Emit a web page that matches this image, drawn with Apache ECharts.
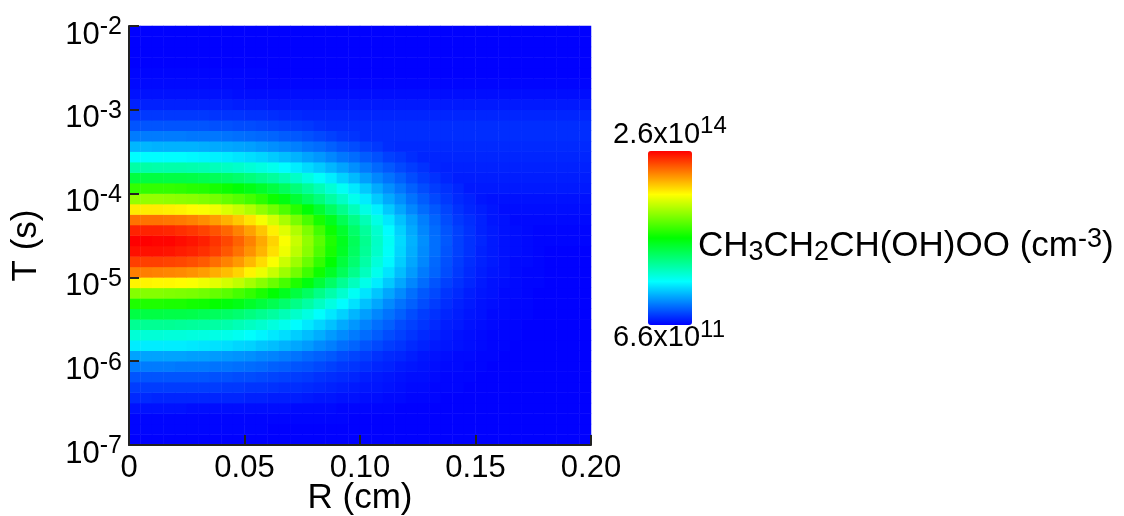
<!DOCTYPE html>
<html>
<head>
    <meta charset="utf-8">
    <title>CH3CH2CH(OH)OO</title>
    <script src="https://cdn.jsdelivr.net/npm/echarts@6.0.0/dist/echarts.min.js"></script>
    <style>
        html, body { margin: 0; padding: 0; background: #fff; }
        #chart1 { width: 1124px; height: 516px; }
    </style>
</head>
<body>
<div id="chart1"></div>
<script type="text/javascript">
    // cell centres of the colour map: R in cm, T as log10(s)
    var rCenters = [0.0025, 0.0075, 0.0125, 0.0175, 0.0225, 0.0275, 0.0325, 0.0375, 0.0425, 0.0475,
        0.0525, 0.0575, 0.0625, 0.0675, 0.0725, 0.0775, 0.0825, 0.0875, 0.0925, 0.0975,
        0.1025, 0.1075, 0.1125, 0.1175, 0.1225, 0.1275, 0.1325, 0.1375, 0.1425, 0.1475,
        0.1525, 0.1575, 0.1625, 0.1675, 0.1725, 0.1775, 0.1825, 0.1875, 0.1925, 0.1975];
    var logTCenters = [-6.9375, -6.8125, -6.6875, -6.5625, -6.4375, -6.3125, -6.1875, -6.0625, -5.9375, -5.8125,
        -5.6875, -5.5625, -5.4375, -5.3125, -5.1875, -5.0625, -4.9375, -4.8125, -4.6875, -4.5625,
        -4.4375, -4.3125, -4.1875, -4.0625, -3.9375, -3.8125, -3.6875, -3.5625, -3.4375, -3.3125,
        -3.1875, -3.0625, -2.9375, -2.8125, -2.6875, -2.5625, -2.4375, -2.3125, -2.1875, -2.0625];

    // CH3CH2CH(OH)OO in 10^12 cm^-3, one row per T cell, bottom row (10^-7 s) first
    var conc = [
        [1, 1, 1, 1, 1, 1, 1, 1, 1, 1, 1, 1, 1, 1, 1, 1, 1, 1, 1, 1, 1, 1, 1, 1, 1, 1, 1, 1, 1, 1, 1, 1, 1, 1, 1, 1, 1, 1, 1, 1],
        [2, 2, 2, 2, 2, 2, 2, 2, 2, 2, 2, 2, 1, 1, 1, 1, 1, 1, 1, 1, 1, 1, 1, 1, 1, 1, 1, 1, 1, 1, 1, 1, 1, 1, 1, 1, 1, 1, 1, 1],
        [2, 2, 2, 2, 2, 2, 2, 2, 2, 2, 2, 2, 2, 2, 2, 2, 2, 2, 2, 1, 1, 1, 1, 1, 1, 1, 1, 1, 1, 1, 1, 1, 1, 1, 1, 1, 1, 1, 1, 1],
        [5, 5, 5, 5, 5, 4, 4, 4, 4, 4, 4, 4, 4, 4, 3, 3, 3, 3, 2, 2, 2, 2, 2, 1, 1, 1, 1, 1, 1, 1, 1, 1, 1, 1, 1, 1, 1, 1, 1, 1],
        [11, 11, 10, 10, 10, 10, 10, 10, 10, 10, 9, 9, 8, 8, 8, 7, 6, 6, 5, 5, 4, 4, 3, 3, 2, 2, 2, 1, 1, 1, 1, 1, 1, 1, 1, 1, 1, 1, 1, 1],
        [16, 16, 16, 16, 16, 16, 16, 16, 15, 15, 14, 14, 13, 12, 12, 11, 10, 9, 8, 7, 6, 6, 5, 4, 3, 3, 2, 2, 2, 1, 1, 1, 1, 1, 1, 1, 1, 1, 1, 1],
        [22, 22, 22, 22, 22, 22, 22, 21, 21, 20, 20, 19, 18, 17, 16, 15, 13, 12, 11, 10, 8, 7, 6, 5, 4, 4, 3, 2, 2, 2, 1, 1, 1, 1, 1, 1, 1, 1, 1, 1],
        [32, 32, 32, 32, 31, 31, 31, 30, 30, 29, 28, 27, 25, 24, 22, 21, 19, 17, 15, 14, 12, 10, 9, 7, 6, 5, 4, 3, 3, 2, 2, 1, 1, 1, 1, 1, 1, 1, 1, 1],
        [42, 42, 42, 42, 42, 41, 41, 40, 39, 38, 37, 35, 34, 32, 30, 27, 25, 23, 20, 18, 16, 13, 11, 10, 8, 6, 5, 4, 3, 3, 2, 2, 1, 1, 1, 1, 1, 1, 1, 1],
        [61, 61, 61, 61, 61, 60, 59, 58, 57, 55, 54, 51, 49, 46, 43, 40, 36, 33, 29, 26, 22, 19, 16, 14, 11, 9, 7, 6, 5, 4, 3, 2, 2, 1, 1, 1, 1, 1, 1, 1],
        [76, 76, 76, 75, 75, 74, 73, 72, 71, 69, 66, 63, 60, 57, 53, 49, 45, 40, 36, 32, 28, 24, 20, 17, 14, 11, 9, 7, 5, 4, 3, 2, 2, 2, 1, 1, 1, 1, 1, 1],
        [93, 93, 93, 93, 92, 91, 90, 89, 87, 84, 81, 78, 74, 70, 65, 60, 55, 50, 44, 39, 34, 29, 25, 20, 17, 14, 11, 8, 7, 5, 4, 3, 2, 2, 1, 1, 1, 1, 1, 1],
        [113, 113, 113, 112, 112, 111, 109, 107, 105, 102, 98, 94, 90, 84, 79, 73, 66, 60, 54, 47, 41, 35, 30, 25, 20, 16, 13, 10, 8, 6, 5, 3, 3, 2, 2, 1, 1, 1, 1, 1],
        [138, 138, 138, 137, 137, 135, 134, 131, 128, 125, 120, 115, 110, 103, 96, 89, 81, 73, 65, 58, 50, 43, 36, 30, 25, 20, 16, 12, 9, 7, 5, 4, 3, 2, 2, 1, 1, 1, 1, 1],
        [164, 164, 164, 163, 162, 161, 159, 156, 153, 148, 143, 137, 130, 123, 114, 106, 96, 87, 78, 68, 59, 51, 43, 36, 29, 23, 19, 14, 11, 8, 6, 5, 3, 3, 2, 1, 1, 1, 1, 1],
        [198, 198, 197, 197, 196, 194, 191, 188, 184, 179, 172, 165, 157, 148, 138, 127, 116, 105, 93, 82, 71, 61, 52, 43, 35, 28, 22, 17, 13, 10, 7, 5, 4, 3, 2, 2, 1, 1, 1, 1],
        [228, 228, 227, 226, 225, 223, 220, 216, 212, 206, 198, 190, 181, 170, 159, 146, 134, 121, 108, 95, 82, 70, 59, 49, 40, 32, 26, 20, 15, 11, 8, 6, 5, 3, 2, 2, 1, 1, 1, 1],
        [244, 244, 244, 243, 242, 240, 237, 232, 227, 221, 213, 204, 194, 182, 170, 157, 143, 130, 115, 102, 88, 75, 64, 53, 43, 35, 27, 21, 16, 12, 9, 7, 5, 3, 3, 2, 1, 1, 1, 1],
        [256, 256, 256, 255, 253, 251, 248, 244, 238, 231, 223, 214, 203, 191, 178, 165, 150, 136, 121, 106, 92, 79, 67, 55, 45, 36, 29, 22, 17, 13, 9, 7, 5, 4, 3, 2, 1, 1, 1, 1],
        [260, 260, 259, 259, 257, 255, 252, 247, 242, 235, 227, 217, 206, 194, 181, 167, 153, 138, 123, 108, 94, 80, 68, 56, 46, 37, 29, 23, 17, 13, 10, 7, 5, 4, 3, 2, 2, 2, 2, 2],
        [251, 251, 251, 250, 248, 246, 243, 239, 234, 227, 219, 210, 199, 187, 175, 162, 147, 133, 119, 104, 91, 78, 65, 54, 44, 35, 28, 22, 17, 13, 9, 7, 5, 4, 3, 2, 2, 2, 2, 2],
        [231, 231, 231, 230, 229, 227, 224, 220, 215, 209, 202, 193, 184, 173, 161, 149, 136, 123, 109, 96, 84, 72, 60, 50, 41, 33, 26, 20, 15, 12, 9, 6, 5, 3, 3, 3, 3, 3, 3, 3],
        [200, 200, 200, 199, 198, 196, 194, 191, 186, 181, 175, 167, 159, 150, 140, 129, 118, 106, 95, 83, 72, 62, 52, 43, 35, 28, 23, 18, 13, 10, 8, 6, 4, 4, 4, 4, 4, 4, 4, 4],
        [168, 168, 168, 167, 166, 165, 163, 160, 156, 152, 147, 141, 133, 126, 117, 108, 99, 89, 80, 70, 61, 52, 44, 37, 30, 24, 19, 15, 11, 9, 6, 5, 5, 5, 5, 5, 5, 5, 5, 5],
        [143, 143, 143, 143, 142, 140, 139, 136, 133, 129, 125, 120, 114, 107, 100, 92, 84, 76, 68, 60, 52, 44, 37, 31, 25, 20, 16, 13, 10, 7, 7, 7, 7, 7, 7, 7, 7, 7, 7, 7],
        [114, 114, 114, 113, 113, 112, 110, 108, 106, 103, 99, 95, 91, 85, 80, 73, 67, 61, 54, 48, 41, 35, 30, 25, 20, 16, 13, 10, 8, 8, 8, 8, 8, 8, 8, 8, 8, 8, 8, 8],
        [88, 88, 87, 87, 87, 86, 85, 83, 81, 79, 76, 73, 70, 65, 61, 56, 52, 47, 42, 37, 32, 27, 23, 19, 16, 13, 10, 9, 9, 9, 9, 9, 9, 9, 9, 9, 9, 9, 9, 9],
        [65, 65, 65, 65, 65, 64, 63, 62, 61, 59, 57, 55, 52, 49, 46, 42, 39, 35, 31, 28, 24, 21, 17, 15, 12, 10, 10, 10, 10, 10, 10, 10, 10, 10, 10, 10, 10, 10, 10, 10],
        [47, 47, 46, 46, 46, 46, 45, 44, 43, 42, 41, 39, 37, 35, 33, 30, 28, 25, 22, 20, 17, 15, 12, 11, 11, 11, 11, 11, 11, 11, 11, 11, 11, 11, 11, 11, 11, 11, 11, 11],
        [32, 32, 32, 32, 32, 31, 31, 31, 30, 29, 28, 27, 26, 24, 23, 21, 19, 17, 15, 14, 12, 12, 12, 12, 12, 12, 12, 12, 12, 12, 12, 12, 12, 12, 12, 12, 12, 12, 12, 12],
        [22, 22, 22, 22, 22, 22, 22, 21, 21, 20, 20, 19, 18, 17, 16, 15, 13, 12, 12, 12, 12, 12, 12, 12, 12, 12, 12, 12, 12, 12, 12, 12, 12, 12, 12, 12, 12, 12, 12, 12],
        [15, 15, 15, 15, 15, 15, 15, 14, 14, 14, 13, 13, 12, 11, 11, 10, 10, 10, 10, 10, 10, 10, 10, 10, 10, 10, 10, 10, 10, 10, 10, 10, 10, 10, 10, 10, 10, 10, 10, 10],
        [9, 9, 9, 9, 9, 9, 9, 9, 9, 8, 8, 8, 7, 7, 7, 7, 7, 7, 7, 7, 7, 7, 7, 7, 7, 7, 7, 7, 7, 7, 7, 7, 7, 7, 7, 7, 7, 7, 7, 7],
        [5, 5, 5, 5, 5, 5, 5, 5, 5, 4, 4, 4, 4, 4, 4, 4, 4, 4, 4, 4, 4, 4, 4, 4, 4, 4, 4, 4, 4, 4, 4, 4, 4, 4, 4, 4, 4, 4, 4, 4],
        [3, 3, 3, 3, 3, 3, 3, 3, 3, 3, 2, 2, 2, 2, 2, 2, 2, 2, 2, 2, 2, 2, 2, 2, 2, 2, 2, 2, 2, 2, 2, 2, 2, 2, 2, 2, 2, 2, 2, 2],
        [2, 2, 2, 2, 2, 2, 2, 2, 2, 2, 2, 2, 1, 1, 1, 1, 1, 1, 1, 1, 1, 1, 1, 1, 1, 1, 1, 1, 1, 1, 1, 1, 1, 1, 1, 1, 1, 1, 1, 1],
        [1, 1, 1, 1, 1, 1, 1, 1, 1, 1, 1, 1, 1, 1, 1, 1, 1, 1, 1, 1, 1, 1, 1, 1, 1, 1, 1, 1, 1, 1, 1, 1, 1, 1, 1, 1, 1, 1, 1, 1],
        [1, 1, 1, 1, 1, 1, 1, 1, 1, 1, 1, 1, 1, 1, 1, 1, 1, 1, 1, 1, 1, 1, 1, 1, 1, 1, 1, 1, 1, 1, 1, 1, 1, 1, 1, 1, 1, 1, 1, 1],
        [1, 1, 1, 1, 1, 1, 1, 1, 1, 1, 1, 1, 1, 1, 1, 1, 1, 1, 1, 1, 1, 1, 1, 1, 1, 1, 1, 1, 1, 1, 1, 1, 1, 1, 1, 1, 1, 1, 1, 1],
        [1, 1, 1, 1, 1, 1, 1, 1, 1, 1, 1, 1, 1, 1, 1, 1, 1, 1, 1, 1, 1, 1, 1, 1, 1, 1, 1, 1, 1, 1, 1, 1, 1, 1, 1, 1, 1, 1, 1, 1]
    ];

    var xTickLabels = ['0', '0.05', '0.10', '0.15', '0.20'];
    var yTickExps = [-7, -6, -5, -4, -3, -2];
    var cbMin = 0.66, cbMax = 260;   // colour bar ends, 10^12 cm^-3
    var cbTop = ['2.6x10', '14'];
    var cbBottom = ['6.6x10', '11'];
    var rainbow = ['#0000ff', '#00ffff', '#00ff00', '#ffff00', '#ff0000'];

    var FONT = '"Liberation Sans", Arial, sans-serif';

    var heatData = [];
    conc.forEach(function (row, j) {
        row.forEach(function (v, i) {
            heatData.push([i, j, v]);
        });
    });

    var supRich = function (base, sup, lh) {
        return {
            b: {fontSize: base, lineHeight: 40, fontFamily: FONT, color: '#000', fill: '#000'},
            s: {fontSize: sup, lineHeight: lh, verticalAlign: 'top', fontFamily: FONT, color: '#000', fill: '#000'}
        };
    };

    var myChart1 = echarts.init(document.getElementById('chart1'));
    // both grids sit on the same box: one carries the cells, the other the real axes
    var gridBox = {left: 129, top: 26, width: 462, height: 419, outerBoundsMode: 'none', containLabel: false};

    myChart1.setOption({
        animation: false,
        backgroundColor: '#fff',
        grid: [gridBox, gridBox],
        xAxis: [{
            type: 'category', gridIndex: 0, show: false,
            data: rCenters.map(String)
        }, {
            type: 'value', gridIndex: 1, min: 0, max: 0.2, interval: 0.05, z: 5,
            axisLine: {show: true, lineStyle: {color: '#222', width: 2}},
            axisTick: {show: true, inside: true, length: 10, lineStyle: {color: '#222', width: 2}},
            splitLine: {show: false},
            axisLabel: {
                margin: 8, fontSize: 31, fontFamily: FONT, color: '#000',
                formatter: function (v) { return xTickLabels[Math.round(v / 0.05)]; }
            },
            name: 'R (cm)', nameLocation: 'middle', nameGap: 36, nameMoveOverlap: false,
            nameTextStyle: {fontSize: 35, fontFamily: FONT, color: '#000'}
        }],
        yAxis: [{
            type: 'category', gridIndex: 0, show: false,
            data: logTCenters.map(String)
        }, {
            type: 'log', gridIndex: 1, logBase: 10, min: 1e-7, max: 1e-2, splitNumber: 5, z: 5,
            axisLine: {show: true, lineStyle: {color: '#222', width: 2}},
            axisTick: {show: true, inside: true, length: 10, lineStyle: {color: '#222', width: 2}},
            splitLine: {show: false},
            axisLabel: {
                margin: 7, verticalAlign: 'middle', padding: [18, 0, 0, 0],
                formatter: function (v) {
                    var e = Math.round(Math.log(v) / Math.LN10);
                    if (yTickExps.indexOf(e) < 0) return '';
                    return '{b|10}{s|' + e + '}';
                },
                rich: supRich(31, 25, 23)
            },
            name: 'T (s)', nameLocation: 'middle', nameGap: 85,
            nameTextStyle: {fontSize: 35, fontFamily: FONT, color: '#000', padding: [0, 20, 0, 0]}
        }],
        visualMap: {
            type: 'continuous', min: cbMin, max: cbMax, seriesIndex: 0,
            calculable: false, show: true, orient: 'vertical',
            left: 648, top: 151, itemWidth: 44, itemHeight: 174, padding: 0,
            text: null, inRange: {color: rainbow}
        },
        graphic: [{
            type: 'text', x: 613, y: 134.5,
            style: {text: '{b|' + cbTop[0] + '}{s|' + cbTop[1] + '}', rich: supRich(29, 24, 20), verticalAlign: 'middle', align: 'left'}
        }, {
            type: 'text', x: 613, y: 338,
            style: {text: '{b|' + cbBottom[0] + '}{s|' + cbBottom[1] + '}', rich: supRich(29, 24, 20), verticalAlign: 'middle', align: 'left'}
        }, {
            type: 'text', x: 698, y: 246,
            style: {
                text: '{b|CH}{d|3}{b|CH}{d|2}{b|CH(OH)OO (cm}{u|-3}{b|)}',
                verticalAlign: 'middle', align: 'left',
                rich: {
                    b: {fontSize: 35, lineHeight: 40, fontFamily: FONT, fill: '#000'},
                    d: {fontSize: 27, lineHeight: 17, verticalAlign: 'bottom', fontFamily: FONT, fill: '#000'},
                    u: {fontSize: 27, lineHeight: 28, verticalAlign: 'top', fontFamily: FONT, fill: '#000'}
                }
            }
        }],
        series: [{
            type: 'heatmap', xAxisIndex: 0, yAxisIndex: 0,
            data: heatData,
            itemStyle: {borderWidth: 0},
            emphasis: {disabled: true}
        }]
    });
</script>
</body>
</html>
